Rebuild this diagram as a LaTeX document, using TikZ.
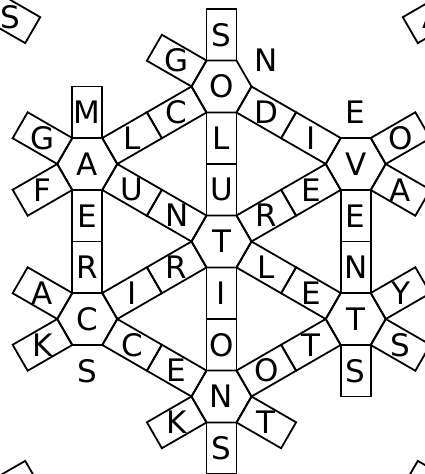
\documentclass[tikz,border=0pt]{standalone}
\usepackage{fontspec}
\setmainfont{DejaVu Sans}
\tikzset{
  frame/.style={draw=black, line width=1.8pt, line join=miter},
  cellbox/.style={frame, rectangle, minimum width=51.5pt, minimum height=30pt, inner sep=0pt, outer sep=0pt},
  ltr/.style={inner sep=0pt, outer sep=0pt, font=\fontsize{31}{31}\selectfont},
}
\newcommand\phub[4]{%
  \node[ltr] (#1) at (#2,#3) {#4};
  \draw[frame] ([shift={(0:30)}]#1.center) -- ++(120:30) -- ++(180:30) -- ++(240:30) -- ++(300:30) -- ++(0:30) -- cycle;}
\newcommand\pcell[5]{%
  \node[cellbox, rotate=#3] (#1) at ([shift={(#3:#4)}]#2.center) {};
  \node[ltr] (#1t) at (#1.center) {#5};}
\newcommand\pfree[5]{%
  \node[ltr] (#1) at ([shift={(#3:#4)}]#2.center) {#5};}
\begin{document}
\begin{tikzpicture}[x=1pt,y=1pt]
\useasboundingbox (0,0) rectangle (425,-474);
\clip (0,0) rectangle (425,-474);
% hubs
\phub{hTc}{221.5}{-241.5}{T}
\phub{hO}{221.5}{-86.5}{O}
\phub{hV}{355.73}{-164}{V}
\phub{hTh}{355.73}{-319}{T}
\phub{hN}{221.5}{-396.5}{N}
\phub{hC}{87.27}{-319}{C}
\phub{hA}{87.27}{-164}{A}
% spokes
\pcell{s1a}{hTc}{90}{51.75}{U}
\pcell{s1b}{hTc}{90}{103.25}{L}
\pcell{s2a}{hTc}{30}{51.75}{R}
\pcell{s2b}{hTc}{30}{103.25}{E}
\pcell{s3a}{hTc}{-30}{51.75}{L}
\pcell{s3b}{hTc}{-30}{103.25}{E}
\pcell{s4a}{hTc}{-90}{51.75}{I}
\pcell{s4b}{hTc}{-90}{103.25}{O}
\pcell{s5a}{hTc}{210}{51.75}{R}
\pcell{s5b}{hTc}{210}{103.25}{I}
\pcell{s6a}{hTc}{150}{51.75}{N}
\pcell{s6b}{hTc}{150}{103.25}{U}
% rim
\pcell{r1a}{hO}{-30}{51.75}{D}
\pcell{r1b}{hO}{-30}{103.25}{I}
\pcell{r2a}{hV}{-90}{51.75}{E}
\pcell{r2b}{hV}{-90}{103.25}{N}
\pcell{r3a}{hTh}{210}{51.75}{T}
\pcell{r3b}{hTh}{210}{103.25}{O}
\pcell{r4a}{hN}{150}{51.75}{E}
\pcell{r4b}{hN}{150}{103.25}{C}
\pcell{r5a}{hC}{90}{51.75}{R}
\pcell{r5b}{hC}{90}{103.25}{E}
\pcell{r6a}{hA}{30}{51.75}{L}
\pcell{r6b}{hA}{30}{103.25}{C}
% outer cells
\pcell{oO1}{hO}{90}{51.75}{S}
\pcell{oO2}{hO}{150}{51.75}{G}
\pfree{oO3}{hO}{30}{51.75}{N}
\pfree{oV1}{hV}{90}{51.75}{E}
\pcell{oV2}{hV}{30}{51.75}{O}
\pcell{oV3}{hV}{-30}{51.75}{A}
\pcell{oT1}{hTh}{30}{51.75}{Y}
\pcell{oT2}{hTh}{-30}{51.75}{S}
\pcell{oT3}{hTh}{-90}{51.75}{S}
\pcell{oN1}{hN}{-30}{51.75}{T}
\pcell{oN2}{hN}{-90}{51.75}{S}
\pcell{oN3}{hN}{210}{51.75}{K}
\pcell{oC1}{hC}{150}{51.75}{A}
\pcell{oC2}{hC}{210}{51.75}{K}
\pfree{oC3}{hC}{-90}{51.75}{S}
\pcell{oA1}{hA}{90}{51.75}{M}
\pcell{oA2}{hA}{150}{51.75}{G}
\pcell{oA3}{hA}{210}{51.75}{F}
% partial cells at the corners
\node[cellbox, rotate=-30] (ctl) at (10.4,-17.25) {};
\node[ltr] (ctlt) at (ctl.center) {S};
\node[cellbox, rotate=30] (ctr) at (432.6,-17.25) {};
\node[ltr] (ctrt) at (ctr.center) {A};
\node[cellbox, rotate=30] (cbl) at (10.4,-486.75) {};
\node[cellbox, rotate=-30] (cbr) at (432.6,-486.75) {};
\end{tikzpicture}
\end{document}
